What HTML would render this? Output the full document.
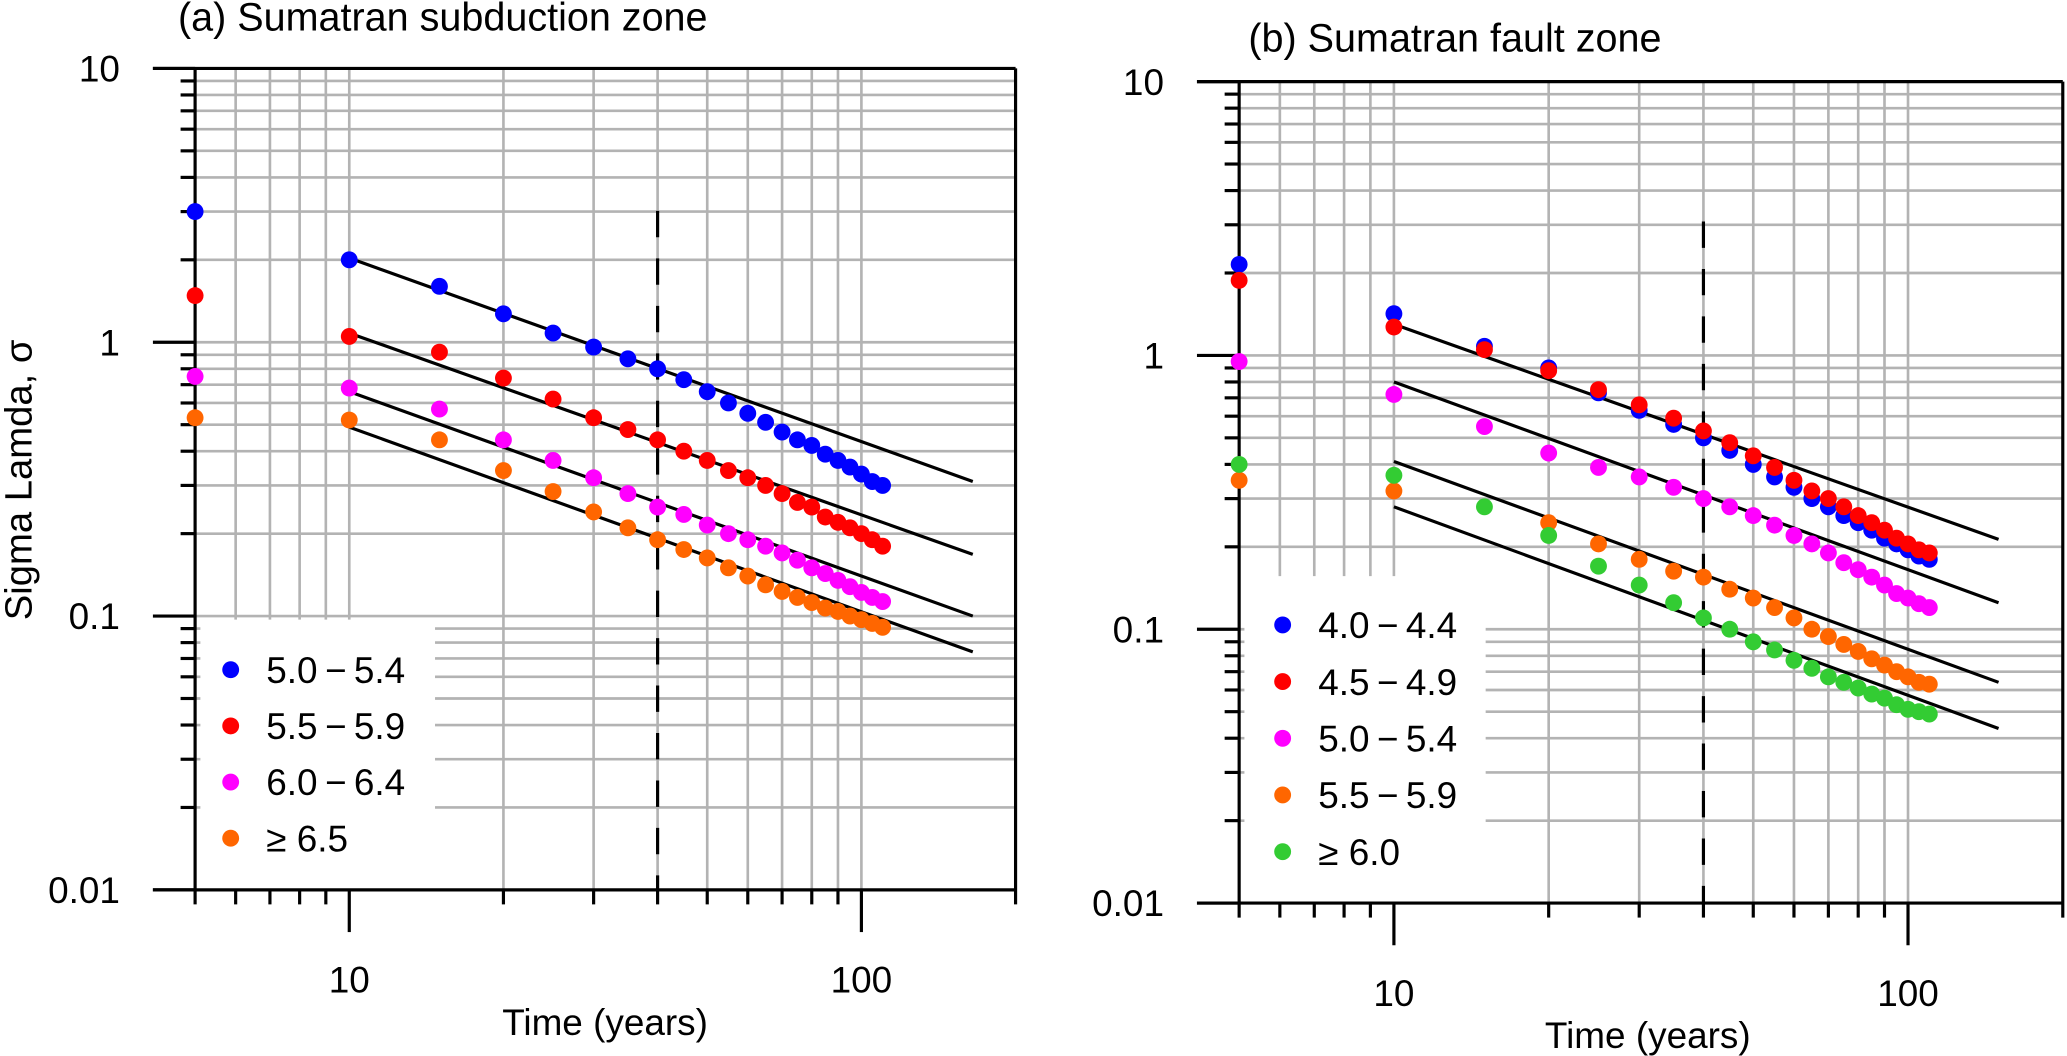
<!DOCTYPE html>
<html><head><meta charset="utf-8"><style>
html,body{margin:0;padding:0;background:#fff;overflow:hidden;}
svg{display:block;font-family:"Liberation Sans",Arial,sans-serif;}
</style></head><body>
<svg id="chart" width="2067" height="1056" viewBox="0 0 1568 801" preserveAspectRatio="none" xmlns="http://www.w3.org/2000/svg">
<g id="pa"></g>
<g id="pb"></g>
</svg>
<script>
// ---------- data ----------
const timesA = [5,10,15,20,25,30,35,40,45,50,55,60,65,70,75,80,85,90,95,100,105,110];
const timesB = [5,10,15,20,25,30,35,40,45,50,55,60,65,70,75,80,85,90,95,100,105,110];
const labelsA = ["5.0\u2009\u2212\u20095.4","5.5\u2009\u2212\u20095.9","6.0\u2009\u2212\u20096.4","\u2265 6.5"];
const labelsB = ["4.0\u2009\u2212\u20094.4","4.5\u2009\u2212\u20094.9","5.0\u2009\u2212\u20095.4","5.5\u2009\u2212\u20095.9","\u2265 6.0"];
const colorsA = ["#0000ff","#ff0000","#ff00ff","#ff6600"];
const colorsB = ["#0000ff","#ff0000","#ff00ff","#ff6600","#33cc33"];
const a1 = [3.0,2.0,1.6,1.27,1.08,0.96,0.87,0.80,0.73,0.66,0.60,0.55,0.51,0.47,0.44,0.42,0.39,0.37,0.35,0.33,0.31,0.30];
const a2 = [1.48,1.05,0.92,0.74,0.62,0.53,0.48,0.44,0.40,0.37,0.34,0.32,0.30,0.28,0.26,0.25,0.23,0.22,0.21,0.20,0.19,0.18];
const a3 = [0.75,0.68,0.57,0.44,0.37,0.32,0.28,0.25,0.235,0.215,0.20,0.19,0.18,0.17,0.16,0.15,0.143,0.135,0.128,0.122,0.117,0.113];
const a4 = [0.53,0.52,0.44,0.34,0.285,0.24,0.21,0.19,0.175,0.163,0.15,0.14,0.13,0.123,0.117,0.112,0.107,0.104,0.10,0.097,0.094,0.091];
const b1 = [2.15,1.42,1.08,0.9,0.73,0.63,0.56,0.50,0.45,0.40,0.36,0.33,0.30,0.28,0.26,0.245,0.23,0.215,0.205,0.195,0.185,0.18];
const b2 = [1.88,1.27,1.05,0.88,0.75,0.66,0.59,0.53,0.48,0.43,0.39,0.35,0.32,0.30,0.28,0.26,0.245,0.23,0.215,0.205,0.195,0.19];
const b3 = [0.95,0.72,0.55,0.44,0.39,0.36,0.33,0.30,0.28,0.26,0.24,0.22,0.205,0.19,0.175,0.165,0.155,0.145,0.135,0.13,0.124,0.12];
const b4 = [0.35,0.32,null,0.245,0.205,0.18,0.163,0.155,0.14,0.13,0.12,0.11,0.10,0.094,0.088,0.083,0.078,0.074,0.07,0.067,0.064,0.063];
const b5 = [0.40,0.365,0.28,0.22,0.17,0.145,0.125,0.11,0.10,0.09,0.084,0.077,0.072,0.067,0.064,0.061,0.058,0.056,0.053,0.051,0.05,0.049];
const fitStartA = [2.03,1.08,0.66,0.49];
const fitEndA = [0.31,0.168,0.10,0.074];
const fitXA = [10,165];
const fitStartB = [1.3,0.80,0.41,0.28];
const fitEndB = [0.213,0.125,0.064,0.0434];
const fitXB = [10,150];
const yTickVals = [10,1,0.1,0.01];
const yTickLabels = ["10","1","0.1","0.01"];
const xTickVals = [10,100];
const xTickLabels = ["10","100"];
const dashedX = 40;

const NS="http://www.w3.org/2000/svg";
function mk(parent,tag,attrs,text){const e=document.createElementNS(NS,tag);for(const k in attrs)e.setAttribute(k,attrs[k]);if(text!==undefined)e.textContent=text;parent.appendChild(e);return e;}

function panel(g,cfg){
  const X=v=>cfg.x0+cfg.dx*Math.log10(v/5);
  const Y=v=>cfg.y0-cfg.dy*Math.log10(v);
  const L=cfg.left,R=X(200),T=Y(10),B=Y(0.01);
  const grid=mk(g,'g',{});
  
  
  for(const dec of [0.01,0.1,1]) for(let m=1;m<=9;m++){
    const v=dec*m; if(v<=0.01||v>=10) continue;
    const ln=mk(grid,'line',{x1:L,x2:R,y1:Y(v),y2:Y(v),stroke:'#b3b3b3','stroke-width':2});
    
    
  }
  for(const v of [6,7,8,9,10,20,30,40,50,60,70,80,90,100]){
    const ln=mk(grid,'line',{x1:X(v),x2:X(v),y1:T,y2:B,stroke:'#b3b3b3','stroke-width':2});
    
    
  }
  const lb=mk(g,'rect',{x:L+4,y:cfg.legY,width:cfg.legR-L-4,height:B-cfg.legY-1,fill:'#fff'});
  
  
  const ax=mk(g,'g',{stroke:'#000','stroke-width':2.4,fill:'none'});
  
  
  mk(ax,'line',{x1:L-32,x2:R,y1:T,y2:T});
  mk(ax,'line',{x1:L-32,x2:R,y1:B,y2:B});
  mk(ax,'line',{x1:L,x2:L,y1:T,y2:B+11});
  mk(ax,'line',{x1:R,x2:R,y1:T,y2:B+11});
  for(const v of yTickVals){ mk(ax,'line',{x1:L-32,x2:L,y1:Y(v),y2:Y(v)}); }
  for(const dec of [0.01,0.1,1]) for(let m=2;m<=9;m++) mk(ax,'line',{x1:L-11,x2:L,y1:Y(dec*m),y2:Y(dec*m)});
  for(const v of [6,7,8,9,20,30,40,50,60,70,80,90]) mk(ax,'line',{x1:X(v),x2:X(v),y1:B,y2:B+11});
  for(const v of xTickVals) mk(ax,'line',{x1:X(v),x2:X(v),y1:B,y2:B+32});
  yTickVals.forEach((v,i)=>{
    const t=mk(g,'text',{x:L-57,y:Y(v)+10,'text-anchor':'end','font-size':28},yTickLabels[i]);
    
    
  });
  xTickVals.forEach((v,i)=>{
    const t=mk(g,'text',{x:X(v),y:B+78,'text-anchor':'middle','font-size':28},xTickLabels[i]);
    
    
  });
  const xt=mk(g,'text',{x:cfg.xTitleX,y:B+110,'text-anchor':'middle','font-size':28},'Time (years)');
  
  
  const tt=mk(g,'text',{x:cfg.titleX,y:cfg.titleY,'font-size':30},cfg.title);
  
  
  const dl=mk(g,'line',{x1:X(dashedX),x2:X(dashedX),y1:cfg.dashTop,y2:B,stroke:'#000','stroke-width':2.4,'stroke-dasharray':'20 16'});
  
  
  cfg.fitS.forEach((s,i)=>{
    const ln=mk(g,'line',{x1:X(cfg.fitX[0]),y1:Y(s),x2:X(cfg.fitX[1]),y2:Y(cfg.fitE[i]),stroke:'#000','stroke-width':2.4});
    
    
  });
  cfg.series.forEach((arr,si)=>{
    const sg=mk(g,'g',{fill:cfg.colors[si]});
    
    
    arr.forEach((v,j)=>{
      if(v==null) return;
      const c=mk(sg,'circle',{cx:X(cfg.times[j]),cy:Y(v),r:6.4});
      
      
    });
  });
  const lg=mk(g,'g',{});
  
  
  cfg.labels.forEach((lab,i)=>{
    const yy=cfg.legRow0+i*cfg.legStep;
    const e=mk(lg,'g',{});
    
    
    mk(e,'circle',{cx:cfg.legDotX,cy:yy,r:6.4,fill:cfg.colors[i]});
    mk(e,'text',{x:cfg.legDotX+27,y:yy+10,'font-size':28},lab);
  });
}

panel(document.getElementById('pa'),{
  x0:148,left:148,dx:388.5,y0:259.6,dy:207.7,legY:470,legR:330,
  title:'(a) Sumatran subduction zone',titleX:135,titleY:23,xTitleX:459,dashTop:160,
  fitS:fitStartA,fitE:fitEndA,fitX:fitXA,series:[a1,a2,a3,a4],colors:colorsA,times:timesA,
  labels:labelsA,legDotX:175,legRow0:508,legStep:42.6
});
panel(document.getElementById('pb'),{
  x0:940,left:940,dx:390,y0:269.6,dy:207.7,legY:437,legR:1127,
  title:'(b) Sumatran fault zone',titleX:947,titleY:39,xTitleX:1250,dashTop:168,
  fitS:fitStartB,fitE:fitEndB,fitX:fitXB,series:[b1,b2,b3,b4,b5],colors:colorsB,times:timesB,
  labels:labelsB,legDotX:973,legRow0:474,legStep:43
});
const yt=document.createElementNS(NS,'text');
yt.setAttribute('transform','translate(24,364) rotate(-90)');
yt.setAttribute('text-anchor','middle');
yt.setAttribute('font-size','29');
yt.textContent='Sigma Lamda, \u03c3';


document.getElementById('chart').appendChild(yt);
</script>
</body></html>
